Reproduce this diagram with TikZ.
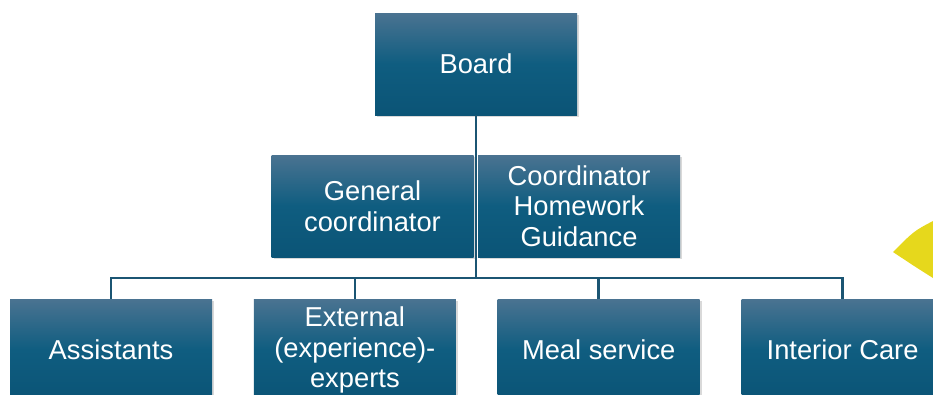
\documentclass[tikz,border=0pt]{standalone}
\usepackage{fontspec}
\setmainfont{Liberation Sans}
\usepackage{xcolor}
\usepackage{tikz}
\usetikzlibrary{positioning}
\usetikzlibrary{shadows}
\definecolor{bleuhaut}{HTML}{4A7391}
\definecolor{bleumilieu}{HTML}{0F5D80}
\definecolor{bleubas}{HTML}{0B5476}
\definecolor{trait}{HTML}{1B5573}
\definecolor{jaune}{HTML}{E6D81C}
\tikzset{
    boite/.style = {rectangle, inner sep=0pt, minimum width=151.5pt, minimum height=76.5pt,
        top color=bleuhaut, bottom color=bleubas, middle color=bleumilieu,
        text=white, align=center, font=\fontsize{20.5}{23}\selectfont,
        drop shadow={shadow xshift=1.5pt, shadow yshift=-1.5pt, opacity=0.3}},
    lien/.style = {draw=trait, line width=2pt}
}

\begin{document}
\begin{tikzpicture}[x=0.75pt, y=-0.75pt, node distance=31pt and 31pt]
                \useasboundingbox (0,0) rectangle (933,394);
                \fill[jaune] (933,221) .. controls (914,231) .. (893,252)
                    .. controls (914,266) .. (933,278) -- cycle;
                \node (board) [boite] at (476,64) {Board};
                \node (gen) [boite] at (372.5,206) {General\\coordinator};
                \node (devoirs) [boite, right=3pt of gen] {Coordinator\\Homework\\Guidance};
                \node (assist) [boite] at (111,350) {Assistants};
                \node (externe) [boite, right=of assist] {External\\(experience)-\\experts};
                \node (repas) [boite, right=of externe] {Meal service};
                \node (interieur) [boite, right=of repas] {Interior Care};
                \coordinate (noeud) at (476,278);
                \path[lien] (board) -- (noeud)
                (noeud) -| (assist) (noeud) -| (externe)
                (noeud) -| (repas) (noeud) -| (interieur);
            \end{tikzpicture}
\end{document}
